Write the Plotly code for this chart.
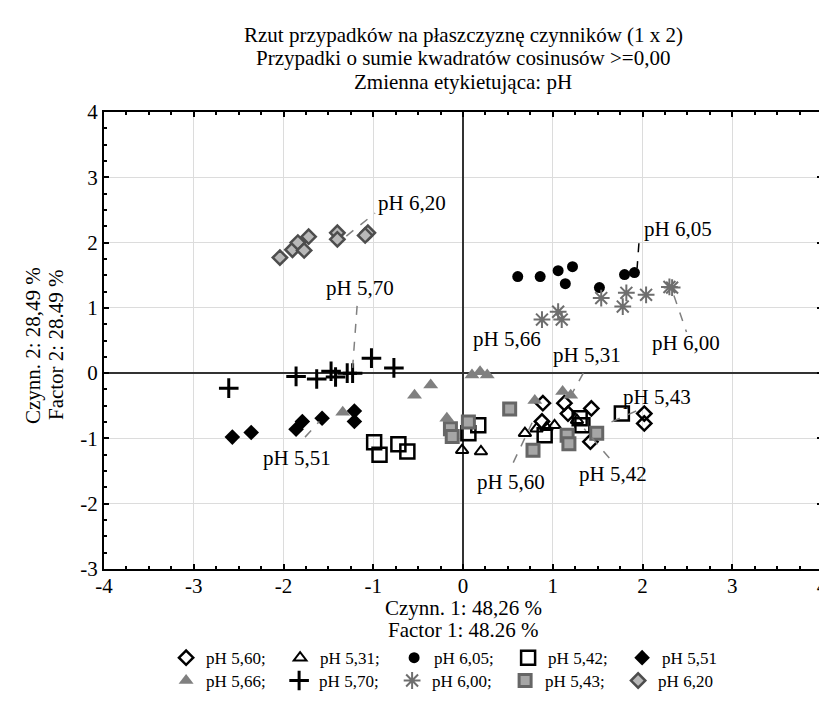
import plotly.graph_objects as go

# ---------------- data (factor coordinates) ----------------
x_560 = [0.89, 0.88, 1.13, 1.17, 1.43, 1.42, 2.02, 2.02]
y_560 = [-0.46, -0.74, -0.46, -0.62, -0.54, -1.05, -0.62, -0.77]

x_531 = [-0.01, 0.20, 0.69, 0.82, 0.93, 1.02, 1.27]
y_531 = [-1.18, -1.20, -0.92, -0.85, -0.83, -0.80, -0.72]

x_605 = [0.61, 0.86, 1.06, 1.22, 1.14, 1.52, 1.80, 1.91]
y_605 = [1.48, 1.48, 1.57, 1.63, 1.37, 1.31, 1.51, 1.54]

x_542 = [-0.99, -0.93, -0.72, -0.62, 0.17, 0.06, 0.91, 1.30, 1.33, 1.77]
y_542 = [-1.06, -1.25, -1.09, -1.20, -0.80, -0.92, -0.95, -0.69, -0.80, -0.62]

x_551 = [-2.57, -2.36, -1.86, -1.79, -1.57, -1.21, -1.21]
y_551 = [-0.98, -0.91, -0.86, -0.74, -0.69, -0.58, -0.74]

x_566 = [-1.34, -0.54, -0.36, -0.18, 0.10, 0.19, 0.27, 0.80, 1.11, 1.20]
y_566 = [-0.60, -0.34, -0.18, -0.69, -0.03, 0.02, -0.03, -0.42, -0.28, -0.34]

x_570 = [-2.61, -1.86, -1.63, -1.47, -1.42, -1.29, -1.23, -1.02, -0.77]
y_570 = [-0.23, -0.05, -0.09, 0.03, -0.06, 0.00, 0.00, 0.23, 0.08]

x_600 = [0.88, 1.06, 1.10, 1.54, 1.78, 1.82, 2.04, 2.30, 2.33]
y_600 = [0.82, 0.94, 0.82, 1.15, 1.02, 1.23, 1.20, 1.32, 1.31]

x_543 = [0.52, 0.06, -0.14, -0.12, 0.78, 1.16, 1.18, 1.49]
y_543 = [-0.55, -0.75, -0.85, -0.97, -1.18, -0.95, -1.08, -0.92]

x_620 = [-2.04, -1.90, -1.84, -1.72, -1.77, -1.40, -1.40, -1.06, -1.09]
y_620 = [1.77, 1.89, 2.00, 2.09, 1.88, 2.15, 2.05, 2.15, 2.11]

series_names = ["pH 5,60", "pH 5,31", "pH 6,05", "pH 5,42", "pH 5,51",
                "pH 5,66", "pH 5,70", "pH 6,00", "pH 5,43", "pH 6,20"]

x_ticks = [-4, -3, -2, -1, 0, 1, 2, 3, 4]
y_ticks = [-3, -2, -1, 0, 1, 2, 3, 4]

# point-label positions and leader-line end points (data units)
label_x = [0.53, 1.38, 2.40, 1.67, -1.85, 0.49, -1.15, 2.49, 2.16, -0.57]
label_y = [-1.66, 0.28, 2.21, -1.55, -1.30, 0.52, 1.30, 0.46, -0.36, 2.60]
lead_x0 = [0.56, 1.34, 1.96, 1.63, -1.76, None, -1.18, 2.35, 1.93, -1.30]
lead_y0 = [-1.37, 0.00, 1.99, -1.30, -0.98, None, 1.03, 1.19, -0.58, 2.10]
lead_x1 = [0.77, 1.20, 1.94, 1.35, -1.60, None, -1.23, 2.49, 1.60, -0.98]
lead_y1 = [-0.76, -0.35, 1.61, -0.85, -0.74, None, 0.08, 0.63, -0.78, 2.45]
lead_col = ["#808080", "#808080", "#000000", "#808080", "#808080",
            None, "#808080", "#808080", "#808080", "#808080"]

xs = [x_560, x_531, x_605, x_542, x_551, x_566, x_570, x_600, x_543, x_620]
ys = [y_560, y_531, y_605, y_542, y_551, y_566, y_570, y_600, y_543, y_620]

styles = [
    dict(symbol="diamond-open", size=11, color="black", line=dict(width=2.5, color="black")),
    dict(symbol="triangle-up-open", size=11, color="black", line=dict(width=2, color="black")),
    dict(symbol="circle", size=11, color="black", line=dict(width=0)),
    dict(symbol="square-open", size=14, color="black", line=dict(width=2.5, color="black")),
    dict(symbol="diamond", size=12, color="black", line=dict(width=0)),
    dict(symbol="triangle-up", size=13, color="#808080", line=dict(width=0)),
    dict(symbol="cross-thin-open", size=14, color="black", line=dict(width=3, color="black")),
    dict(symbol="asterisk-open", size=14, color="#6e6e6e", line=dict(width=2, color="#6e6e6e")),
    dict(symbol="square", size=12, color="#a6a6a6", line=dict(width=3, color="#666666")),
    dict(symbol="diamond", size=11, color="#b8b8b8", line=dict(width=2.5, color="#4d4d4d")),
]

FONT = "Liberation Serif, serif"

fig = go.Figure()
for i in range(10):
    nm = series_names[i] + (";" if i not in (4, 9) else "")
    fig.add_trace(go.Scatter(
        x=xs[i], y=ys[i], mode="markers", name=nm, marker=styles[i],
        legend="legend" if i < 5 else "legend2", cliponaxis=False))

# leader lines and labels
for i in range(10):
    if lead_x0[i] is not None:
        fig.add_shape(type="line", xref="x", yref="y",
                      x0=lead_x0[i], y0=lead_y0[i], x1=lead_x1[i], y1=lead_y1[i],
                      line=dict(color=lead_col[i], width=1.5, dash="dash"), layer="above")
    fig.add_annotation(x=label_x[i], y=label_y[i], xref="x", yref="y",
                       text=series_names[i], showarrow=False,
                       font=dict(family=FONT, size=21, color="black"))

# titles
title_lines = ["Rzut przypadków na płaszczyznę czynników (1 x 2)",
               "Przypadki o sumie kwadratów cosinusów >=0,00",
               "Zmienna etykietująca: pH"]
title_y = [1.168, 1.118, 1.065]
for t, yy in zip(title_lines, title_y):
    fig.add_annotation(x=0.5, y=yy, xref="paper", yref="paper", text=t, showarrow=False,
                       yanchor="middle", font=dict(family=FONT, size=21, color="black"))

xtitle = ["Czynn. 1: 48,26 %", "Factor 1: 48.26 %"]
xtitle_y = [-0.086, -0.134]
for t, yy in zip(xtitle, xtitle_y):
    fig.add_annotation(x=0.5, y=yy, xref="paper", yref="paper", text=t, showarrow=False,
                       yanchor="middle", font=dict(family=FONT, size=21, color="black"))

ytitle = ["Czynn. 2: 28,49 %", "Factor 2: 28.49 %"]
ytitle_x = [-0.0989, -0.0669]
for t, xx in zip(ytitle, ytitle_x):
    fig.add_annotation(x=xx, y=0.49, xref="paper", yref="paper", text=t, showarrow=False,
                       textangle=-90, xanchor="center", yanchor="middle",
                       font=dict(family=FONT, size=21, color="black"))

axis_common = dict(
    showline=True, linecolor="black", linewidth=2, mirror="allticks",
    ticks="inside", ticklen=5, tickwidth=1.5, tickcolor="black",
    showgrid=True, gridcolor="#dcdcdc", gridwidth=1,
    zeroline=True, zerolinecolor="#333333", zerolinewidth=2,
    tickfont=dict(family=FONT, size=21, color="black"),
    ticklabeloverflow="allow",
    minor=dict(dtick=0.25, ticks="inside", ticklen=3, tickcolor="black", showgrid=False),
)

legend_common = dict(orientation="h", xanchor="left", yanchor="middle",
                     font=dict(family=FONT, size=17, color="black"),
                     bgcolor="rgba(0,0,0,0)", itemclick=False, tracegroupgap=0,
                     entrywidthmode="pixels")

# the page body adds an 8 px margin, so the figure is 8 px smaller than the window
fig.update_layout(
    width=819, height=709,
    margin=dict(l=96, r=5, t=104, b=148, autoexpand=False),
    paper_bgcolor="white", plot_bgcolor="white",
    font=dict(family=FONT, color="black"),
    xaxis=dict(range=[-4, 4], tickvals=x_ticks, ticktext=[str(v) for v in x_ticks],
               ticklabelstandoff=-3, **axis_common),
    yaxis=dict(range=[-3, 4], tickvals=y_ticks, ticktext=[str(v) for v in y_ticks],
               **axis_common),
    legend=dict(x=0.0865, y=-0.195, entrywidth=69, **legend_common),
    legend2=dict(x=0.0865, y=-0.245, entrywidth=68, **legend_common),
    showlegend=True,
)

fig.write_html("out.html")
